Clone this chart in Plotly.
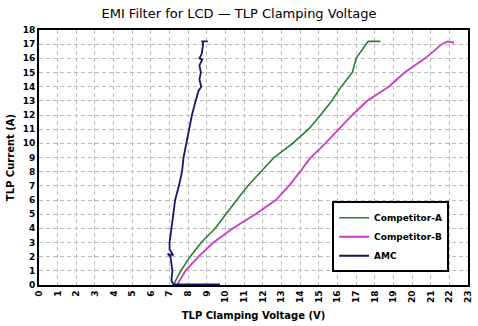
import plotly.graph_objects as go

# Competitor-A (green)
compA_v = [7.2, 7.6, 8.1, 8.7, 9.45, 10.0, 10.6, 11.2, 11.9, 12.6, 13.6, 14.45, 15.1, 15.7, 16.2, 16.8, 17.0, 17.4, 17.65, 18.3]
compA_i = [0.0, 1.0, 2.0, 3.0, 4.0, 5.0, 6.0, 7.0, 8.0, 9.0, 10.0, 11.0, 12.0, 13.0, 14.0, 15.0, 16.0, 16.7, 17.2, 17.2]

# Competitor-B (magenta)
compB_v = [7.4, 7.85, 8.55, 9.35, 10.4, 11.6, 12.7, 13.4, 14.0, 14.5, 15.35, 16.05, 16.8, 17.6, 18.75, 19.6, 20.7, 21.6, 21.9, 22.25]
compB_i = [0.0, 1.0, 2.0, 3.0, 4.0, 5.0, 6.0, 7.0, 8.0, 8.9, 10.0, 11.0, 12.0, 13.0, 14.0, 15.0, 16.0, 17.0, 17.2, 17.1]

# AMC (navy)
amc_v = [9.7, 7.2, 7.1, 7.15, 7.1, 7.05, 6.9, 7.2, 7.0, 7.0, 7.1, 7.2, 7.3, 7.5, 7.67, 7.75, 7.9, 8.07, 8.2, 8.4, 8.55, 8.7, 8.6, 8.68, 8.6, 8.75, 8.6, 8.72, 8.8, 8.75, 9.05]
amc_i = [0.05, 0.05, 0.3, 1.0, 1.5, 2.0, 2.2, 2.1, 2.5, 3.0, 4.0, 5.0, 6.0, 7.0, 8.0, 9.0, 10.0, 11.0, 12.0, 13.0, 13.7, 14.0, 14.5, 15.0, 15.5, 15.9, 16.0, 16.3, 17.0, 17.2, 17.2]

x_ticks = list(range(0, 24))
y_ticks = list(range(0, 19))

fig = go.Figure()
fig.add_trace(go.Scatter(x=compA_v, y=compA_i, mode="lines", name="Competitor-A",
                         line=dict(color="#2e7a30", width=1.6)))
fig.add_trace(go.Scatter(x=compB_v, y=compB_i, mode="lines", name="Competitor-B",
                         line=dict(color="#c83cc8", width=1.8)))
fig.add_trace(go.Scatter(x=amc_v, y=amc_i, mode="lines", name="AMC",
                         line=dict(color="#16166a", width=1.8)))

axis_common = dict(showline=True, linecolor="black", linewidth=2, mirror=True,
                   showgrid=True, gridcolor="#bdbdbd", gridwidth=1, griddash="4px,3px",
                   zeroline=False, ticks="", automargin=False,
                   tickfont=dict(family="DejaVu Sans", size=9, color="black", weight="bold"))

fig.update_xaxes(range=[0, 23], tickvals=x_ticks, ticktext=[str(t) for t in x_ticks],
                 tickangle=-90,
                 title=dict(text="TLP Clamping Voltage (V)", standoff=10,
                            font=dict(family="DejaVu Sans", size=10, color="black", weight="bold")),
                 **axis_common)
fig.update_yaxes(range=[0, 18], tickvals=y_ticks, ticktext=[str(t) for t in y_ticks],
                 title=dict(text="TLP Current (A)", standoff=6,
                            font=dict(family="DejaVu Sans", size=10, color="black", weight="bold")),
                 **axis_common)

fig.update_layout(
    width=478, height=326,
    margin=dict(l=39, r=10, t=30, b=41),
    paper_bgcolor="white", plot_bgcolor="white",
    title=dict(text="EMI Filter for LCD \u2014 TLP Clamping Voltage", x=0.5, xanchor="center",
               y=0.96, yanchor="middle",
               font=dict(family="DejaVu Sans", size=13, color="black")),
    legend=dict(x=0.956, y=0.05, xanchor="right", yanchor="bottom",
                bgcolor="white", bordercolor="black", borderwidth=2,
                font=dict(family="DejaVu Sans", size=9, color="black", weight="bold"),
                tracegroupgap=0, itemwidth=30),
    showlegend=True,
)

fig.write_html("out.html")
